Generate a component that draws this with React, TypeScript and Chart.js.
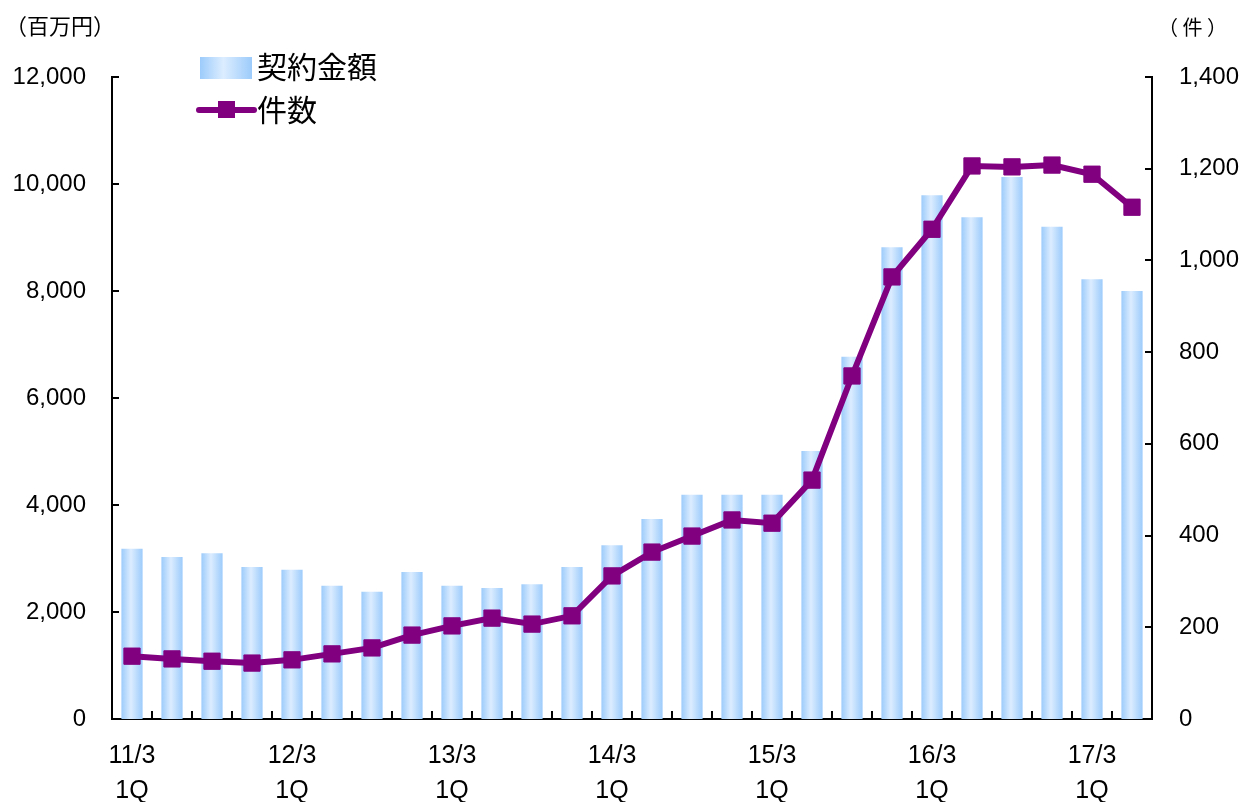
import React, { useEffect, useRef } from 'react';
import { Chart, registerables } from 'chart.js';

Chart.register(...registerables);

const categories = [
  '11/3 1Q', '11/3 2Q', '11/3 3Q', '11/3 4Q',
  '12/3 1Q', '12/3 2Q', '12/3 3Q', '12/3 4Q',
  '13/3 1Q', '13/3 2Q', '13/3 3Q', '13/3 4Q',
  '14/3 1Q', '14/3 2Q', '14/3 3Q', '14/3 4Q',
  '15/3 1Q', '15/3 2Q', '15/3 3Q', '15/3 4Q',
  '16/3 1Q', '16/3 2Q', '16/3 3Q', '16/3 4Q',
  '17/3 1Q', '17/3 2Q',
];

const contractAmount = [
  3180, 3030, 3100, 2840, 2790, 2490, 2380, 2750, 2490, 2450, 2520, 2840, 3250,
  3740, 4190, 4190, 4190, 5010, 6770, 8820, 9790, 9380, 10130, 9200, 8220, 8000,
];

const caseCount = [
  137, 131, 126, 122, 129, 142, 155, 183, 203, 220, 207, 225, 312,
  364, 399, 434, 427, 521, 748, 964, 1068, 1206, 1204, 1208, 1188, 1116,
];

const seriesNames = ['契約金額', '件数'];
const leftAxisTitle = '（百万円）';
const rightAxisTitle = '（ 件 ）';

const FONT = "'Liberation Sans', 'Noto Sans CJK JP', sans-serif";
const CJK = "'Noto Sans CJK JP', sans-serif";
const PURPLE = '#800080';
const BAR_EDGE = '#9ccbfb';
const BAR_MID = '#dcedff';

function barGradient(ctx: CanvasRenderingContext2D, x0: number, x1: number) {
  const g = ctx.createLinearGradient(x0, 0, x1, 0);
  g.addColorStop(0, BAR_EDGE);
  g.addColorStop(0.45, BAR_MID);
  g.addColorStop(1, BAR_EDGE);
  return g;
}

const decorPlugin = {
  id: 'decor',
  afterDraw(chart: any) {
    const { ctx, chartArea, scales } = chart;
    const { left, right, bottom } = chartArea;
    ctx.save();
    ctx.strokeStyle = '#000';
    ctx.lineWidth = 2;
    ctx.beginPath();
    scales.y.ticks.forEach((t: any) => {
      const y = Math.round(scales.y.getPixelForValue(t.value));
      ctx.moveTo(left, y);
      ctx.lineTo(left + 7, y);
    });
    scales.y1.ticks.forEach((t: any) => {
      const y = Math.round(scales.y1.getPixelForValue(t.value));
      ctx.moveTo(right, y);
      ctx.lineTo(right - 7, y);
    });
    for (let i = 1; i < categories.length; i++) {
      const x = Math.round((scales.x.getPixelForValue(i - 1) + scales.x.getPixelForValue(i)) / 2);
      ctx.moveTo(x, bottom);
      ctx.lineTo(x, bottom - 8);
    }
    ctx.stroke();

    // axis titles
    ctx.fillStyle = '#000';
    ctx.font = `22px ${CJK}`;
    ctx.textBaseline = 'middle';
    ctx.textAlign = 'left';
    ctx.fillText(leftAxisTitle, 5, 26);
    ctx.font = `20px ${CJK}`;
    ctx.fillText(rightAxisTitle, 1158, 27);

    // legend
    ctx.fillStyle = barGradient(ctx, 200, 252);
    ctx.fillRect(200, 57, 52, 22);
    ctx.fillStyle = '#000';
    ctx.font = `30px ${CJK}`;
    ctx.fillText(seriesNames[0], 257, 67);

    ctx.strokeStyle = PURPLE;
    ctx.lineWidth = 6;
    ctx.lineCap = 'round';
    ctx.beginPath();
    ctx.moveTo(199, 110);
    ctx.lineTo(254, 110);
    ctx.stroke();
    ctx.fillStyle = PURPLE;
    ctx.fillRect(218, 101, 17, 17);
    ctx.fillStyle = '#000';
    ctx.fillText(seriesNames[1], 257, 110);
    ctx.restore();
  },
};

export default function App() {
  const ref = useRef<HTMLCanvasElement>(null);

  useEffect(() => {
    if (!ref.current) return;
    const chart = new Chart(ref.current, {
      type: 'bar',
      data: {
        labels: categories,
        datasets: [
          {
            type: 'line',
            label: seriesNames[1],
            data: caseCount,
            yAxisID: 'y1',
            borderColor: PURPLE,
            backgroundColor: PURPLE,
            borderWidth: 6,
            pointStyle: 'rect',
            pointRadius: 11.5,
            pointBorderWidth: 1,
            pointBackgroundColor: PURPLE,
            pointBorderColor: PURPLE,
            tension: 0,
            order: 0,
          } as any,
          {
            type: 'bar',
            label: seriesNames[0],
            data: contractAmount,
            yAxisID: 'y',
            order: 1,
            barPercentage: 0.53,
            categoryPercentage: 1,
            backgroundColor: (c: any) => {
              const ch = c.chart;
              if (!ch.chartArea || c.dataIndex === undefined) return BAR_EDGE;
              const xs = ch.scales.x;
              const cx = xs.getPixelForValue(c.dataIndex);
              const w = xs.width / categories.length * 0.53;
              return barGradient(ch.ctx, cx - w / 2, cx + w / 2);
            },
          } as any,
        ],
      },
      options: {
        responsive: false,
        animation: false,
        layout: { padding: { top: 77, left: 0, right: 0, bottom: 0 } },
        plugins: { legend: { display: false }, tooltip: { enabled: false } },
        scales: {
          x: {
            grid: { display: false, drawTicks: false },
            border: { display: true, color: '#000', width: 2 },
            afterFit: (s: any) => { s.height = 83; },
            ticks: {
              autoSkip: false,
              maxRotation: 0,
              padding: 20,
              color: '#000',
              font: { family: FONT, size: 25, lineHeight: 1.4 },
              callback: (_v: any, i: number) => {
                const [yr, q] = categories[i].split(' ');
                return q === '1Q' ? [yr, q] : '';
              },
            },
          },
          y: {
            position: 'left',
            min: 0,
            max: 12000,
            grid: { display: false, drawTicks: false },
            border: { display: true, color: '#000', width: 2 },
            afterFit: (s: any) => { s.width = 112; },
            ticks: {
              stepSize: 2000,
              padding: 26,
              color: '#000',
              font: { family: FONT, size: 24 },
              callback: (v: any) => Number(v).toLocaleString('en-US'),
            },
          },
          y1: {
            position: 'right',
            min: 0,
            max: 1400,
            grid: { display: false, drawTicks: false },
            border: { display: true, color: '#000', width: 2 },
            afterFit: (s: any) => { s.width = 93; },
            ticks: {
              stepSize: 200,
              padding: 27,
              color: '#000',
              font: { family: FONT, size: 24 },
              callback: (v: any) => Number(v).toLocaleString('en-US'),
            },
          },
        },
      },
      plugins: [decorPlugin],
    });
    return () => chart.destroy();
  }, []);

  return (
    <div style={{ position: 'fixed', left: 0, top: 0, width: 1245, height: 802, background: '#fff' }}>
      <canvas ref={ref} width={1245} height={802} style={{ display: 'block' }} />
    </div>
  );
}
